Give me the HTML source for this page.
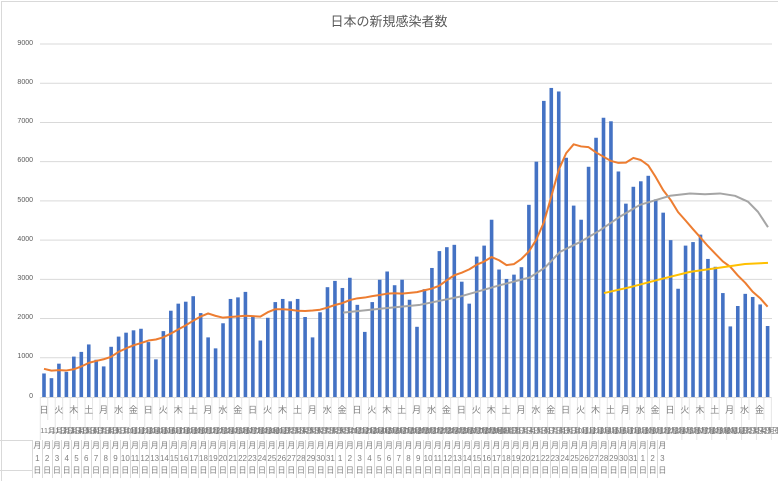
<!DOCTYPE html>
<html><head><meta charset="utf-8">
<style>
html,body{margin:0;padding:0;background:#fff;}
body{width:778px;height:481px;position:relative;overflow:hidden;font-family:"Liberation Sans","Noto Sans CJK JP",sans-serif;}
#frame{position:absolute;left:1px;top:1px;width:776px;height:479px;border-left:1px solid #d9d9d9;border-top:1px solid #d9d9d9;}
.t{position:absolute;color:#595959;}
#title{left:0;width:778px;top:11px;text-align:center;font-size:13px;color:#595959;}
.yl{position:absolute;right:745px;font-size:7px;color:#595959;line-height:8px;}
#wk{position:absolute;left:36.5px;top:403px;white-space:nowrap;font-size:9px;color:#7f7f7f;}
#wk span{display:inline-block;width:14.92px;text-align:center;}
#dt{position:absolute;left:40.3px;top:425px;white-space:nowrap;font-size:7.5px;color:#7f7f7f;}
#dt span{display:inline-block;width:7.46px;overflow:visible;text-align:left;}
#tb{position:absolute;left:32px;top:440px;white-space:nowrap;font-size:8px;color:#7f7f7f;}
#tb span{display:inline-block;width:8.77px;border-left:1px solid #d9d9d9;text-align:center;line-height:12.5px;height:38px;vertical-align:top;}
</style></head><body>
<div id="frame"></div>
<div class="t" id="title">日本の新規感染者数</div>
<svg id="s" width="778" height="481" style="position:absolute;left:0;top:0"></svg>
<div class="yl" style="top:40px">9000</div>
<div class="yl" style="top:79px">8000</div>
<div class="yl" style="top:118px">7000</div>
<div class="yl" style="top:157px">6000</div>
<div class="yl" style="top:197px">5000</div>
<div class="yl" style="top:236px">4000</div>
<div class="yl" style="top:275px">3000</div>
<div class="yl" style="top:314px">2000</div>
<div class="yl" style="top:353px">1000</div>
<div class="yl" style="top:393px">0</div>
<div id="wk"><span>日</span><span>火</span><span>木</span><span>土</span><span>月</span><span>水</span><span>金</span><span>日</span><span>火</span><span>木</span><span>土</span><span>月</span><span>水</span><span>金</span><span>日</span><span>火</span><span>木</span><span>土</span><span>月</span><span>水</span><span>金</span><span>日</span><span>火</span><span>木</span><span>土</span><span>月</span><span>水</span><span>金</span><span>日</span><span>火</span><span>木</span><span>土</span><span>月</span><span>水</span><span>金</span><span>日</span><span>火</span><span>木</span><span>土</span><span>月</span><span>水</span><span>金</span><span>日</span><span>火</span><span>木</span><span>土</span><span>月</span><span>水</span><span>金</span></div>
<div id="dt"><span>11月1日</span><span>11月2日</span><span>11月3日</span><span>11月4日</span><span>11月5日</span><span>11月6日</span><span>11月7日</span><span>11月8日</span><span>11月9日</span><span>11月10日</span><span>11月11日</span><span>11月12日</span><span>11月13日</span><span>11月14日</span><span>11月15日</span><span>11月16日</span><span>11月17日</span><span>11月18日</span><span>11月19日</span><span>11月20日</span><span>11月21日</span><span>11月22日</span><span>11月23日</span><span>11月24日</span><span>11月25日</span><span>11月26日</span><span>11月27日</span><span>11月28日</span><span>11月29日</span><span>11月30日</span><span>12月1日</span><span>12月2日</span><span>12月3日</span><span>12月4日</span><span>12月5日</span><span>12月6日</span><span>12月7日</span><span>12月8日</span><span>12月9日</span><span>12月10日</span><span>12月11日</span><span>12月12日</span><span>12月13日</span><span>12月14日</span><span>12月15日</span><span>12月16日</span><span>12月17日</span><span>12月18日</span><span>12月19日</span><span>12月20日</span><span>12月21日</span><span>12月22日</span><span>12月23日</span><span>12月24日</span><span>12月25日</span><span>12月26日</span><span>12月27日</span><span>12月28日</span><span>12月29日</span><span>12月30日</span><span>12月31日</span><span>1月1日</span><span>1月2日</span><span>1月3日</span><span>1月4日</span><span>1月5日</span><span>1月6日</span><span>1月7日</span><span>1月8日</span><span>1月9日</span><span>1月10日</span><span>1月11日</span><span>1月12日</span><span>1月13日</span><span>1月14日</span><span>1月15日</span><span>1月16日</span><span>1月17日</span><span>1月18日</span><span>1月19日</span><span>1月20日</span><span>1月21日</span><span>1月22日</span><span>1月23日</span><span>1月24日</span><span>1月25日</span><span>1月26日</span><span>1月27日</span><span>1月28日</span><span>1月29日</span><span>1月30日</span><span>1月31日</span><span>2月1日</span><span>2月2日</span><span>2月3日</span><span>2月4日</span><span>2月5日</span><span>2月6日</span></div>
<div id="tb"><span>月<br>1<br>日</span><span>月<br>2<br>日</span><span>月<br>3<br>日</span><span>月<br>4<br>日</span><span>月<br>5<br>日</span><span>月<br>6<br>日</span><span>月<br>7<br>日</span><span>月<br>8<br>日</span><span>月<br>9<br>日</span><span>月<br>10<br>日</span><span>月<br>11<br>日</span><span>月<br>12<br>日</span><span>月<br>13<br>日</span><span>月<br>14<br>日</span><span>月<br>15<br>日</span><span>月<br>16<br>日</span><span>月<br>17<br>日</span><span>月<br>18<br>日</span><span>月<br>19<br>日</span><span>月<br>20<br>日</span><span>月<br>21<br>日</span><span>月<br>22<br>日</span><span>月<br>23<br>日</span><span>月<br>24<br>日</span><span>月<br>25<br>日</span><span>月<br>26<br>日</span><span>月<br>27<br>日</span><span>月<br>28<br>日</span><span>月<br>29<br>日</span><span>月<br>30<br>日</span><span>月<br>31<br>日</span><span>月<br>1<br>日</span><span>月<br>2<br>日</span><span>月<br>3<br>日</span><span>月<br>4<br>日</span><span>月<br>5<br>日</span><span>月<br>6<br>日</span><span>月<br>7<br>日</span><span>月<br>8<br>日</span><span>月<br>9<br>日</span><span>月<br>10<br>日</span><span>月<br>11<br>日</span><span>月<br>12<br>日</span><span>月<br>13<br>日</span><span>月<br>14<br>日</span><span>月<br>15<br>日</span><span>月<br>16<br>日</span><span>月<br>17<br>日</span><span>月<br>18<br>日</span><span>月<br>19<br>日</span><span>月<br>20<br>日</span><span>月<br>21<br>日</span><span>月<br>22<br>日</span><span>月<br>23<br>日</span><span>月<br>24<br>日</span><span>月<br>25<br>日</span><span>月<br>26<br>日</span><span>月<br>27<br>日</span><span>月<br>28<br>日</span><span>月<br>29<br>日</span><span>月<br>30<br>日</span><span>月<br>31<br>日</span><span>月<br>1<br>日</span><span>月<br>2<br>日</span><span>月<br>3<br>日</span></div>
<script>
var d=[600,480,850,640,1030,1150,1340,950,780,1280,1540,1640,1700,1740,1400,960,1680,2200,2380,2430,2570,2140,1520,1240,1880,2500,2540,2680,2070,1440,2020,2420,2500,2440,2500,2040,1520,2160,2800,2960,2780,3040,2350,1660,2420,2990,3200,2850,2990,2480,1790,2750,3290,3720,3820,3880,2940,2380,3580,3860,4520,3250,3010,3120,3310,4900,6000,7550,7880,7790,6100,4880,4520,5870,6610,7120,7030,5750,4930,5360,5500,5640,5040,4700,4000,2760,3860,3950,4140,3520,3320,2650,1800,2320,2630,2550,2360,1810];
var pre=[800,760,700,820,650,700];
var s='',X=function(i){return 44+i*7.46},Y=function(v){return 397-v*0.03922};
for(var k=1;k<=9;k++){var y=Y(k*1000);s+='<line x1="40" x2="772" y1="'+y+'" y2="'+y+'" stroke="#d9d9d9" stroke-width="1"/>';}
s+='<line x1="40" x2="772" y1="397.5" y2="397.5" stroke="#d9d9d9"/>';
for(var i=0;i<=98;i++){var x=40.3+i*7.46;s+='<line x1="'+x+'" x2="'+x+'" y1="397" y2="'+(i%2?420:440)+'" stroke="#e6e6e6"/>';}
s+='<line x1="0" x2="32" y1="440.5" y2="440.5" stroke="#d9d9d9"/><line x1="0" x2="32" y1="470.5" y2="470.5" stroke="#d9d9d9"/>';
for(i=0;i<d.length;i++){s+='<rect x="'+(X(i)-1.8)+'" y="'+Y(d[i])+'" width="3.6" height="'+(d[i]*0.03922)+'" fill="#4472c4"/>';}
var all=pre.concat(d),o=[];
for(i=0;i<d.length;i++){var a=0;for(var j=i;j<=i+6;j++){a+=all[j];}o.push(X(i)+','+Y(a/7));}
s+='<polyline points="'+o.join(' ')+'" fill="none" stroke="#ed7d31" stroke-width="2" stroke-linejoin="round"/>';
var g=[[343,2150],[380,2250],[420,2350],[460,2560],[500,2850],[530,3050],[545,3300],[560,3700],[580,3950],[600,4250],[620,4600],[640,4900],[670,5130],[690,5190],[705,5170],[720,5190],[735,5130],[748,4980],[758,4720],[768,4330]];
s+='<polyline points="'+g.map(function(p){return p[0]+','+Y(p[1])}).join(' ')+'" fill="none" stroke="#a5a5a5" stroke-width="2" stroke-linejoin="round"/>';
var yw=[[604,2650],[630,2800],[660,3000],[690,3190],[720,3300],[745,3390],[768,3420]];
s+='<polyline points="'+yw.map(function(p){return p[0]+','+Y(p[1])}).join(' ')+'" fill="none" stroke="#ffc000" stroke-width="2" stroke-linejoin="round"/>';
document.getElementById('s').innerHTML=s;
</script>
</body></html>
